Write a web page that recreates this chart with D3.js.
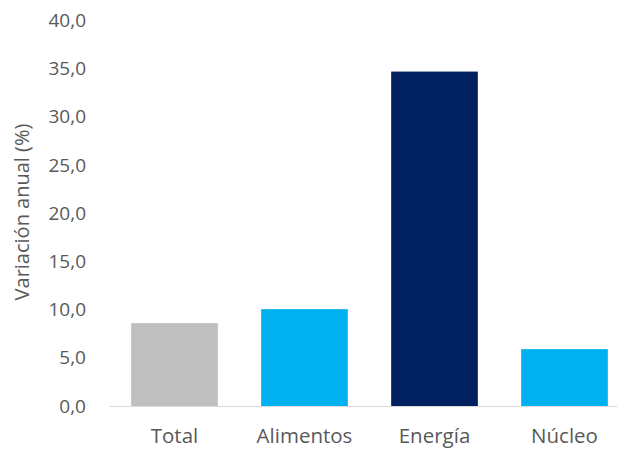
<!DOCTYPE html>
<html><head><meta charset="utf-8">
<script src="https://cdn.jsdelivr.net/npm/d3@7"></script>
<style>body{margin:0;background:#fff}svg{display:block}text{font-family:"Open Sans",sans-serif;fill:#595959}</style>
</head><body>
<svg id="c" width="617" height="449"></svg>
<script>
const categories = ["Total","Alimentos","Energía","Núcleo"];
const values = [8.6, 10.05, 34.7, 5.9];
const colors = ["#bfbfbf","#00b0f0","#002060","#00b0f0"];
const yTicks = [0,5,10,15,20,25,30,35,40];
const yTitle = "Variación anual (%)";

const svg = d3.select("#c");
const x = d3.scaleBand().domain(categories).range([109.5,629.5]).paddingInner(1/3).paddingOuter(1/6);
const y = d3.scaleLinear().domain([0,40]).range([406,20.5]);
const fmt = d => d3.format(".1f")(d).replace(".",",");

svg.append("g").selectAll("rect").data(categories).join("rect")
  .attr("x", d=>x(d)).attr("width", x.bandwidth())
  .attr("y", (d,i)=>y(values[i])).attr("height",(d,i)=>y(0)-y(values[i]))
  .attr("fill",(d,i)=>colors[i]);

const ya = svg.append("g").attr("transform","translate(86,0)")
  .call(d3.axisLeft(y).tickValues(yTicks).tickFormat(fmt).tickSize(0).tickPadding(0));
ya.select(".domain").remove();
ya.selectAll("text").style("font-size","19px").style("font-family",null).attr("fill","#595959");

const xa = svg.append("g").attr("transform","translate(0,406)")
  .call(d3.axisBottom(x).tickSize(0).tickPadding(22));
xa.select(".domain").attr("stroke","#d9d9d9").attr("d","M109.5,0.5H617");
xa.selectAll("text").style("font-size","20.5px").style("font-family",null).attr("fill","#595959");

svg.append("text").attr("transform","translate(29,212) rotate(-90)")
  .attr("text-anchor","middle").style("font-size","20px").text(yTitle);
</script>
</body></html>
